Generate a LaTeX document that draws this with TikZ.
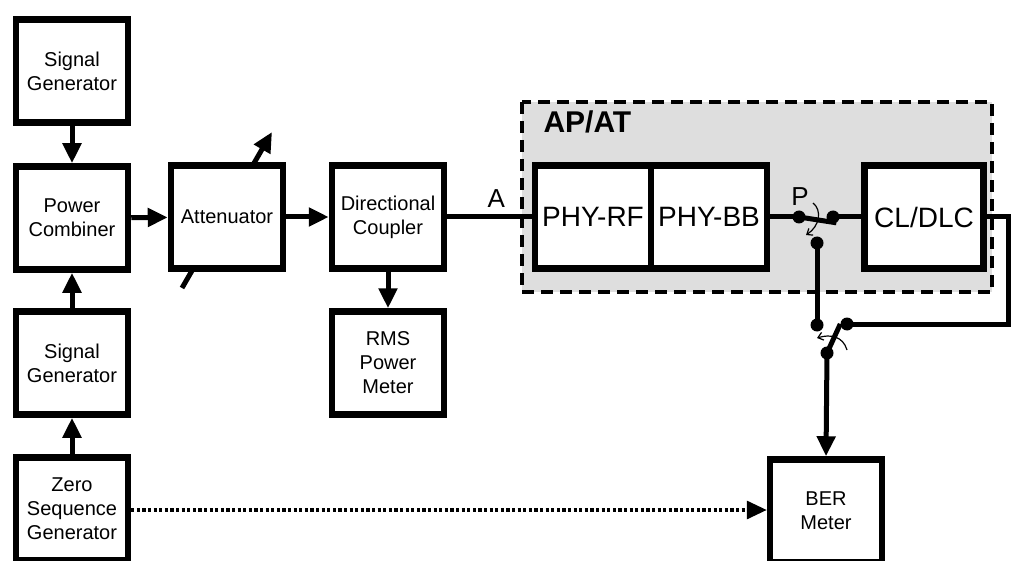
\documentclass[tikz,border=0pt]{standalone}
\usepackage{fontspec}
\setmainfont{Liberation Sans}
\usetikzlibrary{arrows.meta}

\begin{document}
\begin{tikzpicture}[x=1pt,y=-1pt,
    blok/.style={draw,line width=6.5pt,fill=white,minimum width=112pt,minimum height=103pt,
      inner sep=0pt,align=center,font=\fontsize{20}{24}\selectfont},
    bigblok/.style={blok,minimum width=116pt,font=\fontsize{28}{32}\selectfont},
    wire/.style={line width=5pt},
    feed/.style={wire,-{Triangle[length=20pt,width=18pt]}},
    dotfeed/.style={line width=3.2pt,dash pattern=on 3.2pt off 2.4pt,-{Triangle[length=20pt,width=18pt]}},
    pin/.style={circle,fill,inner sep=0pt,minimum size=13pt},
    turn/.style={line width=1.2pt,-{Straight Barb[length=5pt,width=8pt]}},
    tag/.style={font=\fontsize{26}{30}\selectfont}]
  \useasboundingbox (0,0) rectangle (1011,561);
  \clip (0,0) rectangle (1011,561);
  % Vùng AP/AT
  \draw[line width=3.5pt,dash pattern=on 12pt off 7pt,fill=black!13] (522,102) rectangle (992,292);
  \node[anchor=base west,font=\bfseries\fontsize{30}{34}\selectfont] (apat) at (540,133) {AP/AT};
  % Mũi tên điều chỉnh của bộ suy giảm
  \coordinate (attlo) at (182,288);
  \coordinate (atthi) at (272,132);
  \draw[feed] (attlo) -- (atthi);
  % Các khối
  \node[blok] (sga) at (72,71) {Signal\\Generator};
  \node[blok] (comb) at (72,218) {Power\\Combiner};
  \node[blok] (sgb) at (72,363) {Signal\\Generator};
  \node[blok] (zero) at (72,509) {Zero\\Sequence\\Generator};
  \node[blok] (att) at (227,217) {Attenuator};
  \node[blok] (dc) at (388,217) {Directional\\Coupler};
  \node[blok] (rms) at (388,363) {RMS\\Power\\Meter};
  \node[bigblok] (phyrf) at (593,217) {PHY-RF};
  \node[bigblok] (phybb) at (709,217) {PHY-BB};
  \node[bigblok,minimum width=119pt] (cl) at (924,217) {CL/DLC};
  \node[blok] (ber) at (826,511) {BER\\Meter};
  % Các chốt chuyển mạch
  \node[pin] (pa) at (799,217) {};
  \node[pin] (pb) at (833,217) {};
  \node[pin] (pc) at (817,243) {};
  \node[pin] (qa) at (817,325) {};
  \node[pin] (qb) at (847,324) {};
  \node[pin] (qc) at (827,353) {};
  \node[tag,anchor=base] (plab) at (800,206) {P};
  % Các mũi tên
  \draw[feed] (sga) -- (comb);
  \draw[feed] (sgb) -- (comb);
  \draw[feed] (zero) -- (sgb);
  \draw[feed] (comb) -- (att);
  \draw[feed] (att) -- (dc);
  \draw[feed] (dc) -- (rms);
  \draw[wire] (dc) -- node[tag,pos=0.58,above=4pt] {A} (phyrf);
  \draw[wire] (phybb.east) -- (pa.center);
  \draw[wire] (pa.center) -- (pb.-60);
  \draw[wire] (pb.center) -- (cl.west);
  \draw[wire] (pc.center) -- (qa.center);
  \coordinate (ret) at (1008,217);
  \draw[wire] (cl.east) -- (ret) |- (qb.center);
  \draw[wire] (qc.center) -- (qb.west);
  \draw[feed] (qc.center) -- (ber.north);
  \draw[dotfeed] (zero.east |- 0,510) -- (ber.west |- 0,510);
  % Mũi tên cong
  \draw[turn] (813,203) .. controls (822,210) and (820,226) .. (806,235);
  \draw[turn] (847,350) .. controls (843,336) and (830,334) .. (817,338);
\end{tikzpicture}
\end{document}
